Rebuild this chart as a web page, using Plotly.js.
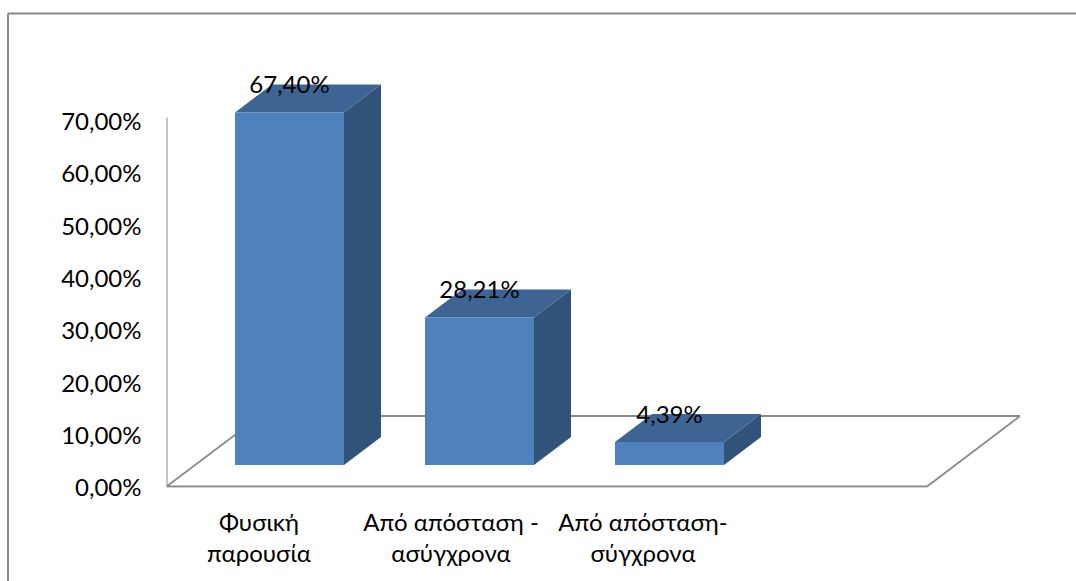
<!DOCTYPE html>
<html>
<head>
<meta charset="utf-8">
<script src="https://cdn.plot.ly/plotly-3.0.1.min.js"></script>
<style>html,body{margin:0;padding:0;background:#fff;overflow:hidden}#chart{width:1076px;height:581px}</style>
</head>
<body>
<div id="chart"></div>
<script>
const categories = ["Φυσική<br>παρουσία", "Από απόσταση -<br>ασύγχρονα", "Από απόσταση-<br>σύγχρονα"];
const values = [67.40, 28.21, 4.39];
const valueLabels = ["67,40%", "28,21%", "4,39%"];
const yTickValues = [0, 10, 20, 30, 40, 50, 60, 70];
const yTickLabels = ["0,00%", "10,00%", "20,00%", "30,00%", "40,00%", "50,00%", "60,00%", "70,00%"];

const W = 1076, H = 581;
const FONT = 'Lato, Carlito, "Noto Sans", sans-serif';
const FONT_SIZE = 24;
const GREY = '#8a8a8a';
const pxPerCat = 190, pxPerPct = 5.23, originX = 289.5, axisX = 166.5, rightX = 1020, baseY = 486.5, axisTopY = 117.8, plotTopY = 60;
const barW = 109 / pxPerCat, depthX = 37 / pxPerCat, depthY = 28 / pxPerPct, lift = 21.5 / pxPerPct;
const labelShift = 30.5 / pxPerCat, labelSpacing = 192 / pxPerCat, labelNudge = 2.5 / pxPerPct, tickNudge = 1.2 / pxPerPct;
const xMin = (axisX - originX) / pxPerCat, xMax = (rightX - originX) / pxPerCat;
const floorFrontRight = (927 - originX) / pxPerCat, floorBackLeft = (260 - originX) / pxPerCat, floorBack = 70.5 / pxPerPct;
const axisTop = (baseY - axisTopY) / pxPerPct;

const poly = (xs, ys, color) => ({
  type: 'scatter', mode: 'lines', x: xs.concat(xs[0]), y: ys.concat(ys[0]),
  fill: 'toself', fillcolor: color, line: {width: 0, color: color},
  cliponaxis: false, hoverinfo: 'skip', showlegend: false
});

const traces = [];
// floor
traces.push({
  type: 'scatter', mode: 'lines',
  x: [xMin, floorBackLeft, xMax, floorFrontRight, xMin],
  y: [0, floorBack, floorBack, 0, 0],
  line: {color: GREY, width: 1.8}, cliponaxis: false, hoverinfo: 'skip', showlegend: false
});
// vertical axis wall line
traces.push({
  type: 'scatter', mode: 'lines', x: [xMin, xMin], y: [0, axisTop],
  line: {color: GREY, width: 2}, cliponaxis: false, hoverinfo: 'skip', showlegend: false
});
values.forEach((v, i) => {
  const l = i - barW / 2, r = i + barW / 2, b = lift, t = lift + v;
  traces.push(poly([r, r + depthX, r + depthX, r], [b, b + depthY, t + depthY, t], '#325379'));
  traces.push(poly([l, r, r + depthX, l + depthX], [t, t, t + depthY, t + depthY], '#3d6493'));
  traces.push(poly([l, r, r, l], [b, b, t, t], '#4f81bd'));
});
traces.push({
  type: 'scatter', mode: 'text',
  x: values.map((v, i) => i),
  y: values.map(v => v + lift + depthY - labelNudge),
  text: valueLabels, textposition: 'middle center',
  textfont: {family: FONT, size: FONT_SIZE, color: '#000'},
  cliponaxis: false, hoverinfo: 'skip', showlegend: false
});

const layout = {
  width: W, height: H,
  margin: {l: 0, r: 0, t: 0, b: 0, pad: 0},
  paper_bgcolor: '#fff', plot_bgcolor: 'rgba(0,0,0,0)',
  showlegend: false, hovermode: false,
  font: {family: FONT, size: FONT_SIZE, color: '#000'},
  xaxis: {
    domain: [axisX / W, rightX / W], range: [xMin, xMax],
    tickmode: 'array', tickvals: categories.map((c, i) => i * labelSpacing - labelShift), ticktext: categories,
    showgrid: false, zeroline: false, showline: false, ticks: '', ticklabelstandoff: 18,
    tickfont: {family: FONT, size: FONT_SIZE, color: '#000'}, tickangle: 0
  },
  yaxis: {
    domain: [1 - (baseY + tickNudge * pxPerPct) / H, 1 - plotTopY / H], range: [-tickNudge, (baseY - plotTopY) / pxPerPct],
    tickmode: 'array', tickvals: yTickValues.map(v => v - tickNudge), ticktext: yTickLabels,
    showgrid: false, zeroline: false, showline: false, ticks: '', ticklabelstandoff: 24,
    tickfont: {family: FONT, size: FONT_SIZE, color: '#000'}
  },
  shapes: [
    {type: 'line', xref: 'paper', yref: 'paper', x0: 8 / W, x1: 8 / W, y0: 0, y1: 1 - 13.5 / H, line: {color: GREY, width: 2}},
    {type: 'line', xref: 'paper', yref: 'paper', x0: 8 / W, x1: 1, y0: 1 - 13.5 / H, y1: 1 - 13.5 / H, line: {color: GREY, width: 2}}
  ]
};
Plotly.newPlot('chart', traces, layout, {displayModeBar: false, staticPlot: true});
</script>
</body>
</html>
